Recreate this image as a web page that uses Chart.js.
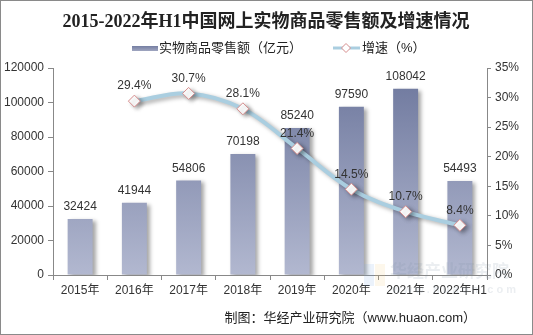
<!DOCTYPE html>
<html>
<head>
<meta charset="utf-8">
<script src="https://cdn.jsdelivr.net/npm/chart.js@4.4.1/dist/chart.umd.min.js"></script>
<style>
  html, body { margin: 0; padding: 0; background: #fff; }
  #wrap { width: 533px; height: 335px; position: relative; }
</style>
</head>
<body>
<div id="wrap"><canvas id="salesChart" width="533" height="335"></canvas></div>
<script>
const categories = ['2015年', '2016年', '2017年', '2018年', '2019年', '2020年', '2021年', '2022年H1'];
const salesValues = [32424, 41944, 54806, 70198, 85240, 97590, 108042, 54493];
const growthValues = [null, 29.4, 30.7, 28.1, 21.4, 14.5, 10.7, 8.4];

const titleText = '2015-2022年H1中国网上实物商品零售额及增速情况';
const barLabel = '实物商品零售额（亿元）';
const lineLabel = '增速（%）';
const sourceText = '制图：华经产业研究院（www.huaon.com）';

const cjk = "'Liberation Sans', 'Noto Sans CJK SC', sans-serif";
const lineColor = 'rgb(170, 206, 224)';
const pointBorder = 'rgb(214, 140, 140)';

function barGradient(context) {
    const chart = context.chart;
    const area = chart.chartArea;
    if (!area) return 'rgb(130,138,170)';
    const g = chart.ctx.createLinearGradient(0, area.top, 0, area.bottom);
    g.addColorStop(0, 'rgb(108, 118, 156)');
    g.addColorStop(1, 'rgb(178, 184, 208)');
    return g;
}

// shadow behind bars and line
const shadowPlugin = {
    id: 'shadows',
    beforeDatasetDraw(chart, args) {
        const ctx = chart.ctx;
        ctx.save();
        ctx.shadowColor = 'rgba(0,0,0,0.35)';
        ctx.shadowBlur = 4;
        ctx.shadowOffsetX = 3;
        ctx.shadowOffsetY = 2;
    },
    afterDatasetDraw(chart) {
        chart.ctx.restore();
    }
};

// value labels, title, legend, footer, border
const decorPlugin = {
    id: 'decor',
    afterDatasetsDraw(chart) {
        const ctx = chart.ctx;
        ctx.save();
        ctx.fillStyle = '#333';
        ctx.font = '12px ' + cjk;
        ctx.textAlign = 'center';
        ctx.textBaseline = 'bottom';
        chart.getDatasetMeta(0).data.forEach((bar, i) => {
            ctx.fillText(String(salesValues[i]), bar.x, bar.y - 6);
        });
        chart.getDatasetMeta(1).data.forEach((pt, i) => {
            if (growthValues[i] === null) return;
            ctx.fillText(growthValues[i].toFixed(1) + '%', pt.x, pt.y - 9);
        });

        // faint watermark
        ctx.globalAlpha = 0.15;
        ctx.fillStyle = '#7a8aa0';
        ctx.font = 'bold 17px ' + cjk;
        ctx.textAlign = 'left';
        ctx.textBaseline = 'middle';
        ctx.fillText('华经产业研究院', 390, 272);
        ctx.font = 'bold 11px ' + cjk;
        ctx.fillText('w w w . h u a o n . c o m', 392, 290);
        ctx.fillStyle = 'rgb(120,170,230)';
        ctx.fillRect(364, 264, 10, 22);
        ctx.fillStyle = 'rgb(240,200,120)';
        ctx.fillRect(375, 264, 10, 22);
        ctx.restore();

        ctx.save();
        // title
        ctx.fillStyle = '#222';
        ctx.font = "bold 18px 'Liberation Serif', 'Noto Sans CJK SC', serif";
        ctx.textAlign = 'center';
        ctx.textBaseline = 'middle';
        ctx.fillText(titleText, 266, 22);

        // legend
        ctx.font = '13px ' + cjk;
        ctx.textAlign = 'left';
        const lg = ctx.createLinearGradient(0, 45, 0, 51);
        lg.addColorStop(0, 'rgb(108,118,156)');
        lg.addColorStop(1, 'rgb(160,166,192)');
        ctx.fillStyle = lg;
        ctx.fillRect(132, 46, 26, 5);
        ctx.fillStyle = '#222';
        ctx.fillText(barLabel, 159, 48);

        ctx.strokeStyle = lineColor;
        ctx.lineWidth = 3;
        ctx.beginPath();
        ctx.moveTo(333, 48);
        ctx.lineTo(360, 48);
        ctx.stroke();
        ctx.beginPath();
        ctx.moveTo(346, 43.5);
        ctx.lineTo(350.5, 48);
        ctx.lineTo(346, 52.5);
        ctx.lineTo(341.5, 48);
        ctx.closePath();
        ctx.fillStyle = '#fff';
        ctx.fill();
        ctx.strokeStyle = pointBorder;
        ctx.lineWidth = 1;
        ctx.stroke();
        ctx.fillStyle = '#222';
        ctx.fillText(lineLabel, 362, 48);

        // source footer
        ctx.font = '13px ' + cjk;
        ctx.textAlign = 'right';
        ctx.fillText(sourceText, 476, 318);

        // outer border
        ctx.strokeStyle = '#8a8a8a';
        ctx.lineWidth = 1;
        ctx.strokeRect(0.5, 0.5, 532, 334);
        ctx.restore();
    }
};

const ctx = document.getElementById('salesChart').getContext('2d');
const salesChart = new Chart(ctx, {
    type: 'bar',
    data: {
        labels: categories,
        datasets: [
            {
                type: 'bar',
                label: barLabel,
                data: salesValues,
                yAxisID: 'y',
                backgroundColor: barGradient,
                borderWidth: 0,
                barPercentage: 0.46,
                categoryPercentage: 1,
                order: 2
            },
            {
                type: 'line',
                label: lineLabel,
                data: growthValues,
                yAxisID: 'y1',
                borderColor: lineColor,
                borderWidth: 4,
                tension: 0.35,
                pointStyle: 'rectRot',
                pointRadius: 6,
                pointBackgroundColor: '#fff',
                pointBorderColor: pointBorder,
                pointBorderWidth: 1,
                spanGaps: false,
                order: 1
            }
        ]
    },
    plugins: [shadowPlugin, decorPlugin],
    options: {
        responsive: false,
        animation: false,
        devicePixelRatio: 1,
        layout: { padding: { left: 0, right: 0, top: 68, bottom: 37 } },
        plugins: {
            legend: { display: false },
            title: { display: false },
            tooltip: { enabled: false }
        },
        scales: {
            x: {
                offset: true,
                grid: {
                    offset: true,
                    drawOnChartArea: false,
                    drawTicks: true,
                    tickLength: 5,
                    color: '#888'
                },
                border: { display: true, color: '#888' },
                ticks: {
                    color: '#333',
                    font: { size: 12, family: cjk },
                    maxRotation: 0,
                    autoSkip: false,
                    padding: 3
                },
                afterFit(scale) { scale.height = 23; }
            },
            y: {
                position: 'left',
                min: 0,
                max: 120000,
                ticks: {
                    stepSize: 20000,
                    color: '#333',
                    font: { size: 12, family: cjk },
                    padding: 4,
                    callback: v => String(v)
                },
                grid: {
                    drawOnChartArea: false,
                    drawTicks: true,
                    tickLength: 5,
                    color: '#888'
                },
                border: { display: true, color: '#888' },
                afterFit(scale) { scale.width = 53; }
            },
            y1: {
                position: 'right',
                min: 0,
                max: 35,
                ticks: {
                    stepSize: 5,
                    color: '#333',
                    font: { size: 12, family: cjk },
                    padding: 4,
                    callback: v => v + '%'
                },
                grid: {
                    drawOnChartArea: false,
                    drawTicks: true,
                    tickLength: 4,
                    color: '#888'
                },
                border: { display: true, color: '#888' },
                afterFit(scale) { scale.width = 46; }
            }
        }
    }
});
</script>
</body>
</html>
